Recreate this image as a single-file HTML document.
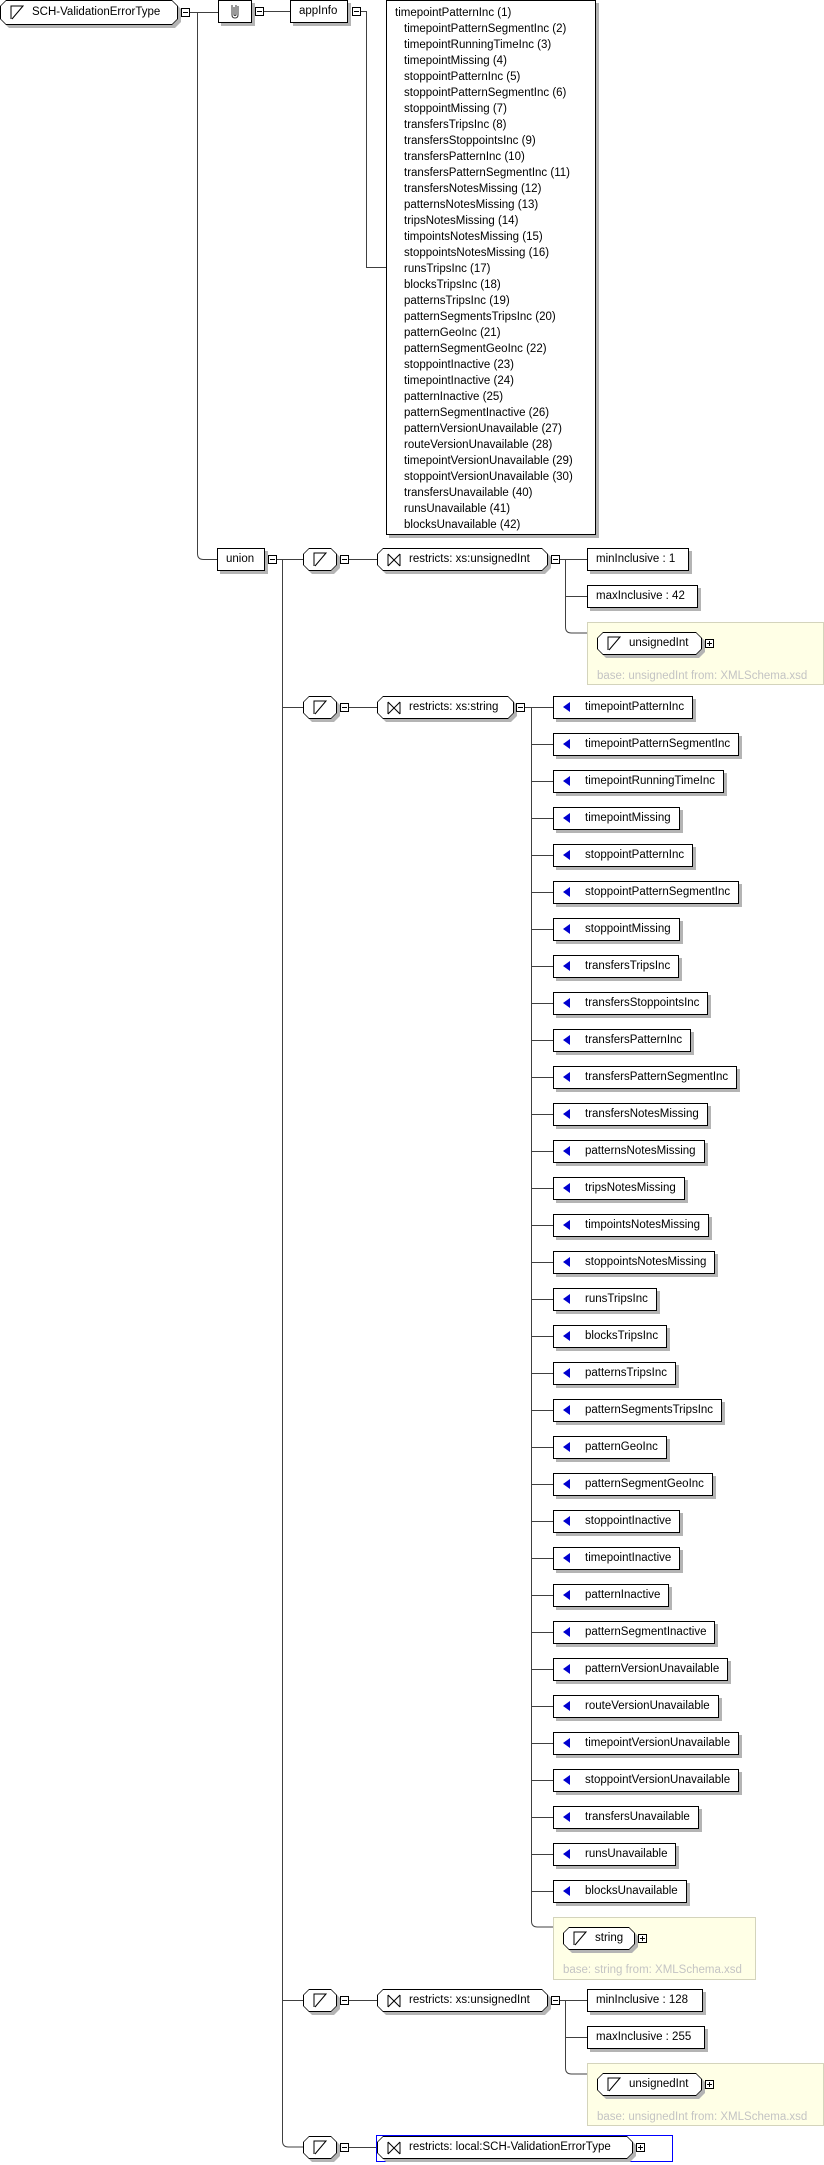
<!DOCTYPE html>
<html><head><meta charset="utf-8">
<style>
body{margin:0;width:824px;height:2165px;background:#fff;position:relative;overflow:hidden;font-family:"Liberation Sans",Arial,sans-serif;font-size:11.5px;color:#000}
.a{position:absolute}
.r{position:absolute;border:1px solid #000;background:#fff;box-shadow:3px 3px 0 #b4b4b4;height:23px;box-sizing:border-box;line-height:21px;padding:0 8px;white-space:nowrap}
.e{padding-left:31px}
.e::before{content:"";position:absolute;left:9px;top:5px;border-right:7px solid #0000d0;border-top:5px solid transparent;border-bottom:5px solid transparent}
.oc{position:absolute;height:23px}
.oc .s,.oc .b,.oc .w{position:absolute;clip-path:polygon(6px 0,calc(100% - 6px) 0,100% 6px,100% calc(100% - 6px),calc(100% - 6px) 100%,6px 100%,0 calc(100% - 6px),0 6px)}
.oc .s{left:3px;top:3px;width:100%;height:100%;background:#b4b4b4}
.oc .b{left:0;top:0;width:100%;height:100%;background:#000}
.oc .w{left:1px;top:1px;right:1px;bottom:1px;background:#fff;clip-path:polygon(5px 0,calc(100% - 5px) 0,100% 5px,100% calc(100% - 5px),calc(100% - 5px) 100%,5px 100%,0 calc(100% - 5px),0 5px)}
.oc .t{position:absolute;left:0;top:0;height:23px;line-height:23px;white-space:nowrap}
.oc svg{position:absolute}
.mn{position:absolute;width:7px;height:7px;border:1px solid #000;background:#fff}
.mn::after{content:"";position:absolute;left:1px;top:3px;width:5px;height:1px;background:#000}
.pl::before{content:"";position:absolute;left:3px;top:1px;width:1px;height:5px;background:#000}
.y{position:absolute;background:#ffffe6;border:1px solid #d4d4bc;box-sizing:border-box}
.bt{position:absolute;color:#c4c4c4;white-space:nowrap}
.doc{position:absolute;left:386px;top:0;width:210px;height:535px;border:1px solid #000;box-sizing:border-box;background:#fff;box-shadow:3px 3px 0 #b4b4b4;padding:4px 0 0 8px;line-height:16px;white-space:nowrap}
.doc div{padding-left:9px}
.doc div:first-child{padding-left:0}
</style></head><body>
<svg class="a" style="left:0;top:0" width="824" height="2165">
<g stroke="#404040" stroke-width="1" fill="none">
<path d="M190 12.5H218"/>
<path d="M197.5 12.5V553.5q0 6 6 6H217"/>
<path d="M264 11.5H290"/>
<path d="M361 11.5H366.5V267.5H388"/>
<path d="M277 559.5H304"/>
<path d="M282.5 559.5V2141q0 6 6 6H304"/>
<path d="M282.5 707.5H304"/>
<path d="M282.5 2000.5H304"/>
<path d="M349 559.5H377"/><path d="M349 707.5H377"/><path d="M349 2000.5H377"/><path d="M349 2147.5H377"/>
<path d="M560 559.5H587"/><path d="M565.5 559.5V627q0 6 6 6H587"/><path d="M565.5 596.5H587"/>
<path d="M560 2000.5H587"/><path d="M565.5 2000.5V2068q0 6 6 6H587"/><path d="M565.5 2037.5H587"/>
<path d="M525 707.5H553"/><path d="M531.5 707.5V1921q0 6 6 6H553"/>
<path d="M531.5 744.5H553M531.5 781.5H553M531.5 818.5H553M531.5 855.5H553M531.5 892.5H553M531.5 929.5H553M531.5 966.5H553M531.5 1003.5H553M531.5 1040.5H553M531.5 1077.5H553M531.5 1114.5H553M531.5 1151.5H553M531.5 1188.5H553M531.5 1225.5H553M531.5 1262.5H553M531.5 1299.5H553M531.5 1336.5H553M531.5 1373.5H553M531.5 1410.5H553M531.5 1447.5H553M531.5 1484.5H553M531.5 1521.5H553M531.5 1558.5H553M531.5 1595.5H553M531.5 1632.5H553M531.5 1669.5H553M531.5 1706.5H553M531.5 1743.5H553M531.5 1780.5H553M531.5 1817.5H553M531.5 1854.5H553M531.5 1891.5H553"/>
</g></svg>

<!-- root -->
<div class="oc" style="left:0;top:0;width:178px;height:25px"><div class="s"></div><div class="b"></div><div class="w"></div>
<svg style="left:10px;top:5px" width="14" height="15"><path d="M1 14V1H13L2 14" stroke="#000" fill="none"/></svg>
<div class="t" style="left:32px;line-height:25px">SCH-ValidationErrorType</div></div>
<div class="mn" style="left:181px;top:8px"></div>

<div class="r" style="left:218px;top:0;width:34px"></div>
<svg class="a" style="left:228px;top:3px" width="14" height="17"><path d="M4 2V12Q4 15 7 15Q10 15 10 12V3M6 4V12Q7 13 8 12V2" stroke="#333" fill="none"/></svg>
<div class="mn" style="left:255px;top:7px"></div>
<div class="r" style="left:290px;top:0;width:58px">appInfo</div>
<div class="mn" style="left:352px;top:7px"></div>

<div class="doc">
<div>timepointPatternInc (1)</div><div>timepointPatternSegmentInc (2)</div><div>timepointRunningTimeInc (3)</div><div>timepointMissing (4)</div><div>stoppointPatternInc (5)</div><div>stoppointPatternSegmentInc (6)</div><div>stoppointMissing (7)</div><div>transfersTripsInc (8)</div><div>transfersStoppointsInc (9)</div><div>transfersPatternInc (10)</div><div>transfersPatternSegmentInc (11)</div><div>transfersNotesMissing (12)</div><div>patternsNotesMissing (13)</div><div>tripsNotesMissing (14)</div><div>timpointsNotesMissing (15)</div><div>stoppointsNotesMissing (16)</div><div>runsTripsInc (17)</div><div>blocksTripsInc (18)</div><div>patternsTripsInc (19)</div><div>patternSegmentsTripsInc (20)</div><div>patternGeoInc (21)</div><div>patternSegmentGeoInc (22)</div><div>stoppointInactive (23)</div><div>timepointInactive (24)</div><div>patternInactive (25)</div><div>patternSegmentInactive (26)</div><div>patternVersionUnavailable (27)</div><div>routeVersionUnavailable (28)</div><div>timepointVersionUnavailable (29)</div><div>stoppointVersionUnavailable (30)</div><div>transfersUnavailable (40)</div><div>runsUnavailable (41)</div><div>blocksUnavailable (42)</div>
</div>

<!-- union -->
<div class="r" style="left:217px;top:548px;width:48px">union</div>
<div class="mn" style="left:268px;top:555px"></div>

<!-- simple type icons -->
<div class="oc" style="left:303px;top:548px;width:34px"><div class="s"></div><div class="b"></div><div class="w"></div><svg style="left:10px;top:4px" width="14" height="15"><path d="M1 14V1H13L2 14" stroke="#000" fill="none"/></svg></div>
<div class="mn" style="left:340px;top:555px"></div>
<div class="oc" style="left:303px;top:696px;width:34px"><div class="s"></div><div class="b"></div><div class="w"></div><svg style="left:10px;top:4px" width="14" height="15"><path d="M1 14V1H13L2 14" stroke="#000" fill="none"/></svg></div>
<div class="mn" style="left:340px;top:703px"></div>
<div class="oc" style="left:303px;top:1989px;width:34px"><div class="s"></div><div class="b"></div><div class="w"></div><svg style="left:10px;top:4px" width="14" height="15"><path d="M1 14V1H13L2 14" stroke="#000" fill="none"/></svg></div>
<div class="mn" style="left:340px;top:1996px"></div>
<div class="oc" style="left:303px;top:2136px;width:34px"><div class="s"></div><div class="b"></div><div class="w"></div><svg style="left:10px;top:4px" width="14" height="15"><path d="M1 14V1H13L2 14" stroke="#000" fill="none"/></svg></div>
<div class="mn" style="left:340px;top:2143px"></div>

<!-- restricts 1 -->
<div class="oc" style="left:377px;top:548px;width:171px"><div class="s"></div><div class="b"></div><div class="w"></div><svg style="left:10px;top:5px" width="14" height="14"><path d="M1 1V13M13 1V13M1 1L13 13M13 1L1 13" stroke="#000" fill="none"/></svg><div class="t" style="left:32px">restricts: xs:unsignedInt</div></div>
<div class="mn" style="left:551px;top:555px"></div>
<div class="r" style="left:587px;top:548px;width:102px">minInclusive : 1</div>
<div class="r" style="left:587px;top:585px;width:111px">maxInclusive : 42</div>
<div class="y" style="left:587px;top:622px;width:237px;height:63px"></div>
<div class="oc" style="left:597px;top:632px;width:105px"><div class="s"></div><div class="b"></div><div class="w"></div><svg style="left:10px;top:4px" width="14" height="15"><path d="M1 14V1H13L2 14" stroke="#000" fill="none"/></svg><div class="t" style="left:32px">unsignedInt</div></div>
<div class="mn pl" style="left:705px;top:639px"></div>
<div class="bt" style="left:597px;top:670px">base: unsignedInt from: XMLSchema.xsd</div>

<!-- restricts string -->
<div class="oc" style="left:377px;top:696px;width:137px"><div class="s"></div><div class="b"></div><div class="w"></div><svg style="left:10px;top:5px" width="14" height="14"><path d="M1 1V13M13 1V13M1 1L13 13M13 1L1 13" stroke="#000" fill="none"/></svg><div class="t" style="left:32px">restricts: xs:string</div></div>
<div class="mn" style="left:516px;top:703px"></div>

<div class="r e" style="left:553px;top:696px">timepointPatternInc</div>
<div class="r e" style="left:553px;top:733px">timepointPatternSegmentInc</div>
<div class="r e" style="left:553px;top:770px">timepointRunningTimeInc</div>
<div class="r e" style="left:553px;top:807px">timepointMissing</div>
<div class="r e" style="left:553px;top:844px">stoppointPatternInc</div>
<div class="r e" style="left:553px;top:881px">stoppointPatternSegmentInc</div>
<div class="r e" style="left:553px;top:918px">stoppointMissing</div>
<div class="r e" style="left:553px;top:955px">transfersTripsInc</div>
<div class="r e" style="left:553px;top:992px">transfersStoppointsInc</div>
<div class="r e" style="left:553px;top:1029px">transfersPatternInc</div>
<div class="r e" style="left:553px;top:1066px">transfersPatternSegmentInc</div>
<div class="r e" style="left:553px;top:1103px">transfersNotesMissing</div>
<div class="r e" style="left:553px;top:1140px">patternsNotesMissing</div>
<div class="r e" style="left:553px;top:1177px">tripsNotesMissing</div>
<div class="r e" style="left:553px;top:1214px">timpointsNotesMissing</div>
<div class="r e" style="left:553px;top:1251px">stoppointsNotesMissing</div>
<div class="r e" style="left:553px;top:1288px">runsTripsInc</div>
<div class="r e" style="left:553px;top:1325px">blocksTripsInc</div>
<div class="r e" style="left:553px;top:1362px">patternsTripsInc</div>
<div class="r e" style="left:553px;top:1399px">patternSegmentsTripsInc</div>
<div class="r e" style="left:553px;top:1436px">patternGeoInc</div>
<div class="r e" style="left:553px;top:1473px">patternSegmentGeoInc</div>
<div class="r e" style="left:553px;top:1510px">stoppointInactive</div>
<div class="r e" style="left:553px;top:1547px">timepointInactive</div>
<div class="r e" style="left:553px;top:1584px">patternInactive</div>
<div class="r e" style="left:553px;top:1621px">patternSegmentInactive</div>
<div class="r e" style="left:553px;top:1658px">patternVersionUnavailable</div>
<div class="r e" style="left:553px;top:1695px">routeVersionUnavailable</div>
<div class="r e" style="left:553px;top:1732px">timepointVersionUnavailable</div>
<div class="r e" style="left:553px;top:1769px">stoppointVersionUnavailable</div>
<div class="r e" style="left:553px;top:1806px">transfersUnavailable</div>
<div class="r e" style="left:553px;top:1843px">runsUnavailable</div>
<div class="r e" style="left:553px;top:1880px">blocksUnavailable</div>

<div class="y" style="left:553px;top:1917px;width:203px;height:63px"></div>
<div class="oc" style="left:563px;top:1927px;width:72px"><div class="s"></div><div class="b"></div><div class="w"></div><svg style="left:10px;top:4px" width="14" height="15"><path d="M1 14V1H13L2 14" stroke="#000" fill="none"/></svg><div class="t" style="left:32px">string</div></div>
<div class="mn pl" style="left:638px;top:1934px"></div>
<div class="bt" style="left:563px;top:1964px">base: string from: XMLSchema.xsd</div>

<!-- restricts 3 -->
<div class="oc" style="left:377px;top:1989px;width:171px"><div class="s"></div><div class="b"></div><div class="w"></div><svg style="left:10px;top:5px" width="14" height="14"><path d="M1 1V13M13 1V13M1 1L13 13M13 1L1 13" stroke="#000" fill="none"/></svg><div class="t" style="left:32px">restricts: xs:unsignedInt</div></div>
<div class="mn" style="left:551px;top:1996px"></div>
<div class="r" style="left:587px;top:1989px;width:116px">minInclusive : 128</div>
<div class="r" style="left:587px;top:2026px;width:118px">maxInclusive : 255</div>
<div class="y" style="left:587px;top:2063px;width:237px;height:63px"></div>
<div class="oc" style="left:597px;top:2073px;width:105px"><div class="s"></div><div class="b"></div><div class="w"></div><svg style="left:10px;top:4px" width="14" height="15"><path d="M1 14V1H13L2 14" stroke="#000" fill="none"/></svg><div class="t" style="left:32px">unsignedInt</div></div>
<div class="mn pl" style="left:705px;top:2080px"></div>
<div class="bt" style="left:597px;top:2111px">base: unsignedInt from: XMLSchema.xsd</div>

<!-- restricts local -->
<div class="a" style="left:376px;top:2135px;width:297px;height:27px;border:1px solid #0000ff;box-sizing:border-box"></div>
<div class="oc" style="left:377px;top:2136px;width:256px"><div class="s"></div><div class="b"></div><div class="w"></div><svg style="left:10px;top:5px" width="14" height="14"><path d="M1 1V13M13 1V13M1 1L13 13M13 1L1 13" stroke="#000" fill="none"/></svg><div class="t" style="left:32px">restricts: local:SCH-ValidationErrorType</div></div>
<div class="mn pl" style="left:636px;top:2143px"></div>
</body></html>
